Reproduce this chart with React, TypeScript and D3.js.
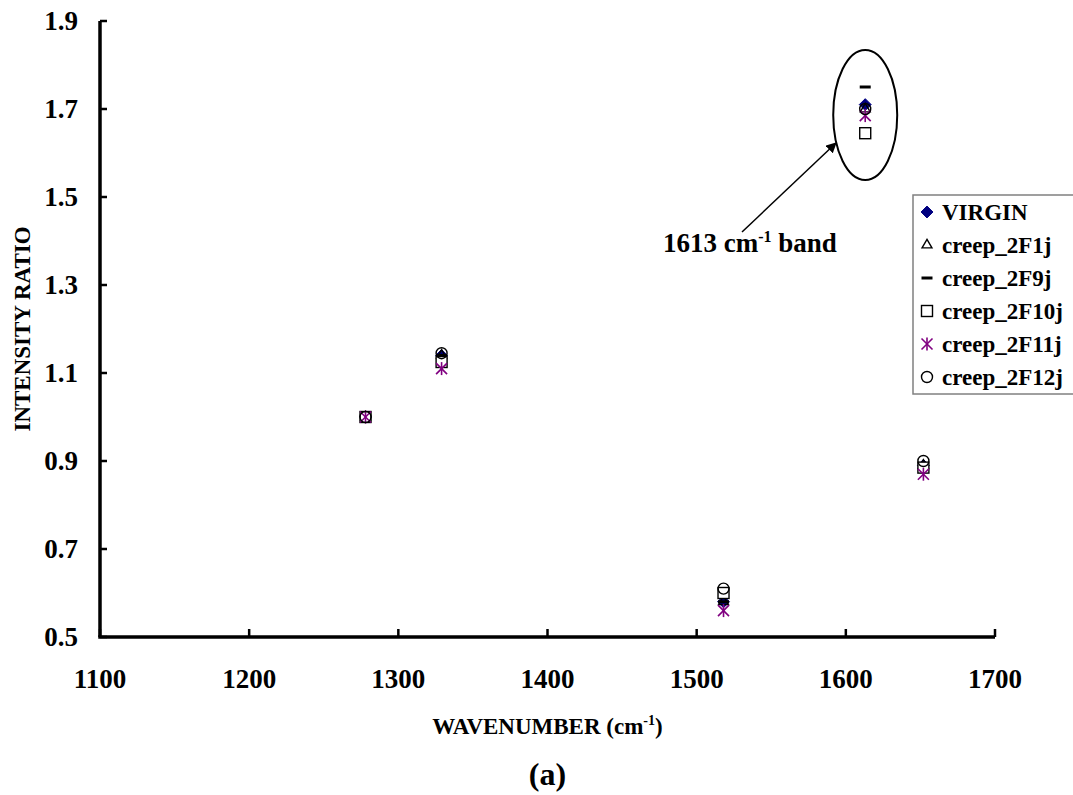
import * as d3 from "d3";

const wavenumbers = [1278, 1329, 1518, 1613, 1652];
const seriesNames = ["VIRGIN", "creep_2F1j", "creep_2F9j", "creep_2F10j", "creep_2F11j", "creep_2F12j"];
const virgin = [1.0, 1.14, 0.58, 1.71, 0.89];
const f1j = [1.0, 1.14, 0.58, 1.7, 0.89];
const f9j = [1.0, 1.14, 0.58, 1.75, 0.885];
const f10j = [1.0, 1.125, 0.6, 1.645, 0.885];
const f11j = [1.0, 1.11, 0.56, 1.685, 0.87];
const f12j = [1.0, 1.145, 0.61, 1.7, 0.9];
const xTickValues = [1100, 1200, 1300, 1400, 1500, 1600, 1700];
const yTickValues = [0.5, 0.7, 0.9, 1.1, 1.3, 1.5, 1.7, 1.9];

const seriesValues = [virgin, f1j, f9j, f10j, f11j, f12j];
const kinds = ["diamond", "triangle", "dash", "square", "asterisk", "circle"];

const font = "'Liberation Serif', 'Times New Roman', serif";

function Marker({ kind, x, y }: { kind: string; x: number; y: number }) {
  if (kind === "diamond") {
    const p = d3.symbol().type(d3.symbolDiamond2).size(90)();
    return <path d={p ?? ""} transform={`translate(${x},${y})`} fill="#000080" stroke="#000080" strokeWidth={1} />;
  }
  if (kind === "triangle") {
    const p = d3.symbol().type(d3.symbolTriangle2).size(70)();
    return <path d={p ?? ""} transform={`translate(${x},${y})`} fill="none" stroke="black" strokeWidth={1.4} />;
  }
  if (kind === "dash") {
    return <line x1={x - 5.5} x2={x + 5.5} y1={y} y2={y} stroke="black" strokeWidth={3} />;
  }
  if (kind === "square") {
    return <rect x={x - 5.5} y={y - 5.5} width={11} height={11} fill="white" stroke="black" strokeWidth={1.4} />;
  }
  if (kind === "asterisk") {
    return (
      <g stroke="#800080" strokeWidth={1.6}>
        <line x1={x - 5.5} x2={x + 5.5} y1={y - 5.5} y2={y + 5.5} />
        <line x1={x - 5.5} x2={x + 5.5} y1={y + 5.5} y2={y - 5.5} />
        <line x1={x} x2={x} y1={y - 6.5} y2={y + 6.5} />
      </g>
    );
  }
  return <circle cx={x} cy={y} r={5.5} fill="none" stroke="black" strokeWidth={1.4} />;
}

export default function App() {
  const width = 1073;
  const height = 795;
  const marginLeft = 100;
  const marginTop = 21;
  const plotRight = 995;
  const plotBottom = 637;

  const xScale = d3.scaleLinear().domain([1100, 1700]).range([marginLeft, plotRight]);
  const yScale = d3.scaleLinear().domain([0.5, 1.9]).range([plotBottom, marginTop]);

  const legendX = 913;
  const legendY = 195;

  return (
    <div style={{ position: "absolute", left: 0, top: 0 }}>
      <svg width={width} height={height} style={{ display: "block", background: "white" }} fontFamily={font} fontWeight="bold">
        {/* axes */}
        <line x1={marginLeft} x2={marginLeft} y1={marginTop} y2={plotBottom} stroke="black" strokeWidth={3.5} />
        <line x1={marginLeft - 1.75} x2={plotRight} y1={plotBottom} y2={plotBottom} stroke="black" strokeWidth={3.5} />
        {yTickValues.map((t) => (
          <g key={t}>
            <line x1={marginLeft} x2={marginLeft + 7} y1={yScale(t)} y2={yScale(t)} stroke="black" strokeWidth={2.5} />
            <text x={78} y={yScale(t)} dy="0.35em" textAnchor="end" fontSize={27}>
              {t.toFixed(1)}
            </text>
          </g>
        ))}
        {xTickValues.map((t) => (
          <g key={t}>
            <line x1={xScale(t)} x2={xScale(t)} y1={plotBottom} y2={plotBottom - 8} stroke="black" strokeWidth={2.5} />
            <text x={xScale(t)} y={688} textAnchor="middle" fontSize={27}>
              {t}
            </text>
          </g>
        ))}

        {/* axis titles */}
        <text transform={`translate(30, ${(marginTop + plotBottom) / 2}) rotate(-90)`} textAnchor="middle" fontSize={23}>
          INTENSITY RATIO
        </text>
        <text x={(marginLeft + plotRight) / 2} y={734} textAnchor="middle" fontSize={23}>
          WAVENUMBER (cm<tspan dy={-9} fontSize={14}>-1</tspan><tspan dy={9}>)</tspan>
        </text>
        <text x={(marginLeft + plotRight) / 2} y={785} textAnchor="middle" fontSize={32}>
          (a)
        </text>

        {/* data */}
        {seriesValues.map((vals, si) =>
          vals.map((v, i) => (
            <Marker key={`${si}-${i}`} kind={kinds[si]} x={xScale(wavenumbers[i])} y={yScale(v)} />
          ))
        )}

        {/* annotation */}
        <ellipse cx={xScale(1613)} cy={115} rx={32} ry={65} fill="none" stroke="black" strokeWidth={2} />
        <defs>
          <marker id="arr" viewBox="0 0 10 10" refX={9} refY={5} markerWidth={7} markerHeight={7} orient="auto">
            <path d="M0,0 L10,5 L0,10 z" fill="black" />
          </marker>
        </defs>
        <line x1={742} y1={232} x2={836} y2={143} stroke="black" strokeWidth={1.5} markerEnd="url(#arr)" />
        <text x={663} y={252} fontSize={27}>
          1613 cm<tspan dy={-10} fontSize={16}>-1</tspan><tspan dy={10}> band</tspan>
        </text>

        {/* legend */}
        <rect x={legendX} y={legendY} width={200} height={199} fill="white" stroke="#808080" strokeWidth={1.5} />
        {seriesNames.map((name, i) => (
          <g key={name}>
            <Marker kind={kinds[i]} x={legendX + 14} y={legendY + 17 + i * 33} />
            <text x={legendX + 29} y={legendY + 17 + i * 33} dy="0.35em" fontSize={23}>
              {name}
            </text>
          </g>
        ))}
      </svg>
    </div>
  );
}
